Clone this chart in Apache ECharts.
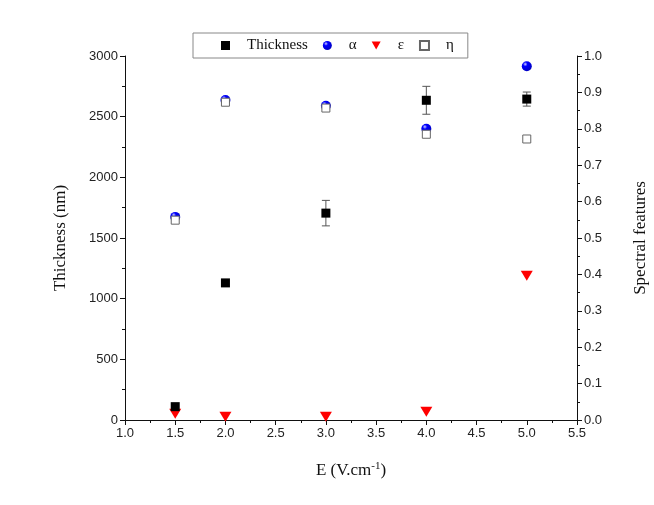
<!DOCTYPE html>
<html>
<head>
<meta charset="utf-8">
<script src="https://cdn.jsdelivr.net/npm/echarts@6/dist/echarts.min.js"></script>
<style>
  html, body { margin: 0; padding: 0; background: #fff; }
  #chart { width: 654px; height: 505px; }
</style>
</head>
<body>
<div id="chart"></div>
<script>
// E field (V/cm)
const fieldE = [1.5, 2.0, 3.0, 4.0, 5.0]
// left axis: thickness (nm) and its error
const thickness = [110, 1130, 1705, 2635, 2645]
const thicknessErr = [0, 0, 105, 115, 58]
// right axis: spectral features
const alpha = [0.558, 0.879, 0.863, 0.80, 0.972]
const epsilon = [0.017, 0.009, 0.009, 0.023, 0.396]
const eta = [0.549, 0.873, 0.857, 0.785, 0.772]

const SERIF = '"Liberation Serif", "DejaVu Serif", serif'
const SANS = '"Liberation Sans", Arial, sans-serif'
const AXIS_COLOR = '#111'
const TRI_DOWN = 'path://M0,0 L10,0 L5,9 Z'

const pairs = (ys) => fieldE.map((x, i) => [x, ys[i]])

const sphere = new echarts.graphic.RadialGradient(0.35, 0.3, 0.75, [
  { offset: 0, color: '#d0d0ff' },
  { offset: 0.3, color: '#0000ff' },
  { offset: 1, color: '#0000c0' },
])

const chart = echarts.init(document.getElementById('chart'))

const baseAxis = {
  axisLine: { show: true, lineStyle: { color: AXIS_COLOR, width: 1 } },
  axisTick: { show: true, inside: false, length: 5, lineStyle: { color: AXIS_COLOR } },
  minorTick: { show: true, splitNumber: 2, length: 3, lineStyle: { color: AXIS_COLOR } },
  splitLine: { show: false },
  axisLabel: { fontFamily: SANS, fontSize: 13, color: '#222', margin: 7 },
  nameTextStyle: { fontFamily: SERIF, fontSize: 17, color: '#111' },
}

chart.setOption({
  animation: false,
  backgroundColor: '#fff',
  grid: { left: 125, right: 77, top: 56, bottom: 85, containLabel: false, outerBoundsMode: 'none' },
  legend: {
    left: 193,
    top: 33,
    padding: [5, 14, 5, 28],
    borderColor: '#888',
    borderWidth: 1,
    itemWidth: 9,
    itemHeight: 9,
    itemGap: 15,
    textStyle: { fontFamily: SERIF, fontSize: 15, color: '#111', padding: [0, 0, 0, 12] },
    data: [
      { name: 'Thickness', icon: 'rect' },
      { name: 'α', icon: 'circle' },
      { name: 'ε', icon: TRI_DOWN },
      { name: 'η', icon: 'rect' },
    ],
  },
  xAxis: {
    ...baseAxis,
    type: 'value',
    min: 1.0,
    max: 5.5,
    interval: 0.5,
    axisLabel: { ...baseAxis.axisLabel, formatter: (v) => v.toFixed(1) },
    name: 'E (V.cm{sup|-1})',
    nameLocation: 'middle',
    nameGap: 41,
    nameTextStyle: {
      ...baseAxis.nameTextStyle,
      rich: { sup: { fontFamily: SERIF, fontSize: 11, padding: [0, 0, 9, 0], color: '#111' } },
    },
  },
  yAxis: [
    {
      ...baseAxis,
      type: 'value',
      min: 0,
      max: 3000,
      interval: 500,
      axisLabel: { ...baseAxis.axisLabel, formatter: (v) => String(v) },
      name: 'Thickness (nm)',
      nameLocation: 'middle',
      nameGap: 56,
    },
    {
      ...baseAxis,
      type: 'value',
      position: 'right',
      min: 0,
      max: 1.0,
      interval: 0.1,
      axisLabel: { ...baseAxis.axisLabel, formatter: (v) => v.toFixed(1) },
      name: 'Spectral features',
      nameLocation: 'middle',
      nameGap: 55,
    },
  ],
  series: [
    {
      name: 'errorbar',
      type: 'custom',
      yAxisIndex: 0,
      z: 1,
      data: fieldE
        .map((x, i) => [x, thickness[i] - thicknessErr[i], thickness[i] + thicknessErr[i], thicknessErr[i]])
        .filter((d) => d[3] > 0),
      renderItem: (params, api) => {
        const lo = api.coord([api.value(0), api.value(1)])
        const hi = api.coord([api.value(0), api.value(2)])
        const cap = 4
        const style = { stroke: '#555', lineWidth: 1 }
        return {
          type: 'group',
          children: [
            { type: 'line', shape: { x1: lo[0], y1: lo[1], x2: hi[0], y2: hi[1] }, style },
            { type: 'line', shape: { x1: lo[0] - cap, y1: lo[1], x2: lo[0] + cap, y2: lo[1] }, style },
            { type: 'line', shape: { x1: hi[0] - cap, y1: hi[1], x2: hi[0] + cap, y2: hi[1] }, style },
          ],
        }
      },
    },
    {
      name: 'Thickness',
      type: 'scatter',
      yAxisIndex: 0,
      z: 3,
      symbol: 'rect',
      symbolSize: 9,
      itemStyle: { color: '#000', opacity: 1 },
      data: pairs(thickness),
    },
    {
      name: 'α',
      type: 'scatter',
      yAxisIndex: 1,
      z: 2,
      symbol: 'circle',
      symbolSize: 10,
      itemStyle: { color: sphere, opacity: 1 },
      data: pairs(alpha),
    },
    {
      name: 'ε',
      type: 'scatter',
      yAxisIndex: 1,
      z: 2,
      symbol: 'triangle',
      symbolRotate: 180,
      symbolSize: [12, 10],
      itemStyle: { color: '#ff0000', opacity: 1 },
      data: pairs(epsilon),
    },
    {
      name: 'η',
      type: 'scatter',
      yAxisIndex: 1,
      z: 3,
      symbol: 'rect',
      symbolSize: 8,
      itemStyle: { color: '#fff', borderColor: '#666', borderWidth: 1, opacity: 1 },
      data: pairs(eta),
    },
  ],
})
</script>
</body>
</html>
